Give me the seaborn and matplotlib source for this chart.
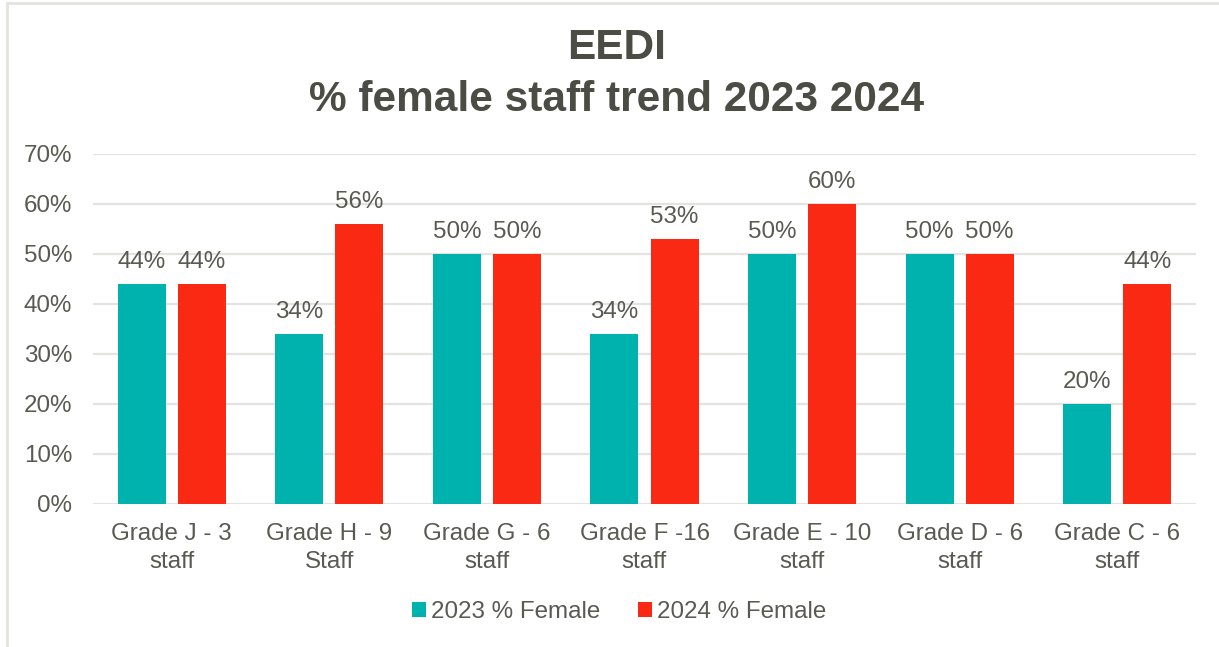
import matplotlib
matplotlib.use("Agg")
import matplotlib.pyplot as plt
from matplotlib.lines import Line2D
from matplotlib.ticker import PercentFormatter
import seaborn as sns
import pandas as pd

categories = ["Grade J - 3\nstaff", "Grade H - 9\nStaff", "Grade G - 6\nstaff",
              "Grade F -16\nstaff", "Grade E - 10\nstaff", "Grade D - 6\nstaff",
              "Grade C - 6\nstaff"]
female_2023 = [44, 34, 50, 34, 50, 50, 20]
female_2024 = [44, 56, 50, 53, 60, 50, 44]
series_names = ["2023 % Female", "2024 % Female"]
colors = ["#00B2AE", "#FA2914"]

text_color = "#595A52"
title_color = "#4B4C44"
grid_color = "#E3E3E0"

sns.set_theme(style="white")
plt.rcParams["font.family"] = ["Liberation Sans", "DejaVu Sans"]

df = pd.DataFrame({
    "category": categories * 2,
    "value": female_2023 + female_2024,
    "series": [series_names[0]] * len(categories) + [series_names[1]] * len(categories),
})

fig = plt.figure(figsize=(12.19, 6.47), dpi=100)
ax = fig.add_axes([93 / 1219, 1 - 504 / 647, 1103 / 1219, 350 / 647])

sns.barplot(data=df, x="category", y="value", hue="series", palette=colors,
            width=0.762, gap=0.2, ax=ax, legend=True, saturation=1,
            edgecolor="none", linewidth=0, zorder=3)

fs = 17.4

# value labels above each bar
for container in ax.containers:
    ax.bar_label(container, labels=[f"{v:.0f}%" for v in container.datavalues],
                 padding=8, fontsize=fs, color=text_color)

ax.set_ylim(0, 70)
ax.set_yticks(range(0, 71, 10))
ax.yaxis.set_major_formatter(PercentFormatter(decimals=0))
ax.set_xlim(-0.5, len(categories) - 0.5)
ax.grid(axis="y", color=grid_color, linewidth=1.6, zorder=0)
ax.set_axisbelow(True)
for s in ax.spines.values():
    s.set_visible(False)
ax.set_xlabel("")
ax.set_ylabel("")
ax.tick_params(axis="both", length=0, labelsize=fs, colors=text_color)
ax.tick_params(axis="y", pad=15)
ax.tick_params(axis="x", pad=14)
for lbl in ax.get_xticklabels():
    lbl.set_linespacing(1.3)

# legend below the chart
handles, labels = ax.get_legend_handles_labels()
ax.legend_.remove()
fig.legend(handles, labels, loc="center", bbox_to_anchor=(619 / 1219, 1 - 612 / 647),
           ncol=2, frameon=False, fontsize=fs, labelcolor=text_color,
           handlelength=0.6, handleheight=0.6, handletextpad=0.2, columnspacing=1.55)

fig.text(617 / 1219, 1 - 48 / 647, "EEDI", ha="center", va="center",
         fontsize=30.5, fontweight="bold", color=title_color)
fig.text(617 / 1219, 1 - 100 / 647, "% female staff trend 2023 2024", ha="center",
         va="center", fontsize=30.5, fontweight="bold", color=title_color)

# chart frame edges
fig.add_artist(Line2D([7 / 1219, 1], [1 - 2.5 / 647, 1 - 2.5 / 647],
                      transform=fig.transFigure, color="#E4E4DE", linewidth=2))
fig.add_artist(Line2D([7 / 1219, 7 / 1219], [0, 1 - 2.5 / 647],
                      transform=fig.transFigure, color="#E4E4DE", linewidth=2))

fig.savefig("out.png", dpi=100, facecolor="white")
